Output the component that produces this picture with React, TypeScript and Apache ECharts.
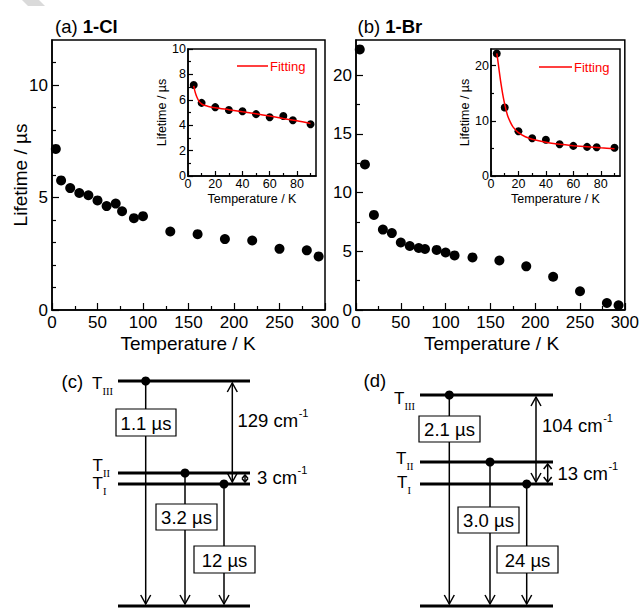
import React, { useEffect, useRef } from "react";
import * as echarts from "echarts";

const SANS = "'Liberation Sans', Arial, Helvetica, sans-serif";
const SERIF = "'Liberation Serif', 'Times New Roman', serif";

// ---------- panel (a) 1-Cl ----------
const clTemperature = [4.2, 10, 20, 30, 40, 50, 60, 70, 77, 90, 100, 130, 160, 190, 220, 250, 280, 293];
const clLifetime = [7.16, 5.76, 5.42, 5.2, 5.1, 4.87, 4.62, 4.73, 4.39, 4.08, 4.17, 3.49, 3.37, 3.15, 3.09, 2.72, 2.65, 2.38];
const clFitT = [4.2, 5, 6, 7, 8, 9, 10, 12, 15, 20, 30, 40, 50, 60, 70, 80, 90];
const clFitL = [7.1, 6.7, 6.35, 6.1, 5.9, 5.77, 5.67, 5.57, 5.48, 5.38, 5.22, 5.06, 4.9, 4.72, 4.53, 4.35, 4.14];

// ---------- panel (b) 1-Br ----------
const brTemperature = [4.2, 10, 20, 30, 40, 50, 60, 70, 77, 90, 100, 110, 130, 160, 190, 220, 250, 280, 293];
const brLifetime = [22.2, 12.4, 8.1, 6.85, 6.55, 5.75, 5.45, 5.28, 5.2, 5.12, 4.9, 4.65, 4.48, 4.22, 3.72, 2.83, 1.6, 0.6, 0.4];
const brFitT = [4.2, 5, 6, 7, 8, 9, 10, 12, 14, 16, 20, 25, 30, 40, 50, 60, 70, 80, 90];
const brFitL = [22.2, 20.9, 19.0, 17.2, 15.6, 14.2, 13.0, 11.0, 9.8, 8.9, 7.85, 7.1, 6.65, 6.1, 5.75, 5.5, 5.3, 5.1, 4.92];

// ---------- axis ticks ----------
const mainXMajor = [0, 50, 100, 150, 200, 250, 300];
const mainXMinor = [25, 75, 125, 175, 225, 275];
const clYMajor = [0, 5, 10];
const clYMinor = [1, 2, 3, 4, 6, 7, 8, 9, 11];
const brYMajor = [0, 5, 10, 15, 20];
const brYMinor = [2.5, 7.5, 12.5, 17.5, 22.5];
const insetXMajor = [0, 20, 40, 60, 80];
const insetXMinor = [10, 30, 50, 70, 90];
const clInsetYMajor = [0, 2, 4, 6, 8, 10];
const clInsetYMinor = [1, 3, 5, 7, 9];
const brInsetYMajor = [0, 10, 20];
const brInsetYMinor = [5, 15];

// ---------- energy diagrams ----------
const diagramCLifetimes = ["1.1 µs", "3.2 µs", "12 µs"];
const diagramCGaps = ["129 cm", "3 cm"];
const diagramDLifetimes = ["2.1 µs", "3.0 µs", "24 µs"];
const diagramDGaps = ["104 cm", "13 cm"];
const levelSubscripts = ["III", "II", "I"];

const zip = (a: number[], b: number[]) => a.map((v, i) => [v, b[i]]);
const INSET_N = 10;

const CW: Record<string, number> = { "0": 0.556, "1": 0.556, "2": 0.556, "3": 0.556, "4": 0.556, "5": 0.556, "6": 0.556, "7": 0.556, "8": 0.556, "9": 0.556, " ": 0.278, c: 0.5, m: 0.833 };
const textW = (s: string, size: number) => s.split("").reduce((acc, ch) => acc + (CW[ch] ?? 0.55), 0) * size;

function axisPair(dim: "x" | "y", gridIndex: number, min: number, max: number, majors: number[], minors: number[], fontSize: number, majorLen: number, minorLen: number, margin: number) {
  const position = dim === "x" ? "bottom" : "left";
  const major = {
    type: "value", gridIndex, min, max, position,
    axisLine: { show: true, onZero: false, lineStyle: { color: "#000", width: 1.5 } },
    axisTick: { show: true, inside: true, length: majorLen, customValues: majors, lineStyle: { color: "#000", width: 1.2 } },
    axisLabel: { show: true, customValues: majors, fontSize, fontFamily: SANS, color: "#000", margin },
    splitLine: { show: false },
  };
  const minor = {
    type: "value", gridIndex, min, max, position,
    axisLine: { show: false, onZero: false },
    axisTick: { show: true, inside: true, length: minorLen, customValues: minors, lineStyle: { color: "#000", width: 1.2 } },
    axisLabel: { show: false },
    splitLine: { show: false },
  };
  return [major, minor];
}

function txt(text: string, x: number, y: number, size: number, opts: any = {}) {
  return {
    type: "text", x, y, z: 30, rotation: opts.rotation ?? 0,
    style: {
      text, x: 0, y: 0, fill: opts.fill ?? "#000",
      fontSize: size, fontFamily: opts.family ?? SANS, fontWeight: opts.weight ?? "normal",
      align: opts.align ?? "left", verticalAlign: "middle",
      textAlign: opts.align ?? "left", textVerticalAlign: "middle",
      rich: opts.rich,
    },
  };
}
function ln(x1: number, y1: number, x2: number, y2: number, w: number) {
  return { type: "line", z: 10, shape: { x1, y1, x2, y2 }, style: { stroke: "#000", lineWidth: w } };
}
function head(x: number, y: number, dir: number, hw = 5, hh = 9) {
  return { type: "polyline", z: 11, shape: { points: [[x - hw, y - dir * hh], [x, y], [x + hw, y - dir * hh]] }, style: { stroke: "#000", lineWidth: 1.5, fill: null } };
}
function dot(x: number, y: number) {
  return { type: "circle", z: 12, shape: { cx: x, cy: y, r: 4.5 }, style: { fill: "#000" } };
}
function box(x1: number, y1: number, x2: number, y2: number, label: string) {
  return [
    { type: "rect", z: 20, shape: { x: x1, y: y1, width: x2 - x1, height: y2 - y1 }, style: { fill: "#fff", stroke: "#000", lineWidth: 1.2 } },
    txt(label, (x1 + x2) / 2, (y1 + y2) / 2 + 0.5, 18.5, { align: "center" }),
  ];
}
function gapLabel(label: string, x: number, y: number) {
  const w = textW(label, 18.5);
  return [txt(label, x, y, 18.5), txt("-1", x + w + 0.5, y - 7, 11)];
}
function levelLabel(x: number, y: number, sub: string, subY: number) {
  return [txt("T", x, y, 17), txt(sub, x + 10.5, subY, 10.5, { family: SERIF })];
}

function diagram(d: any, lifetimes: string[], gaps: string[]) {
  const els: any[] = [];
  const [yIII, yII, yI] = d.levels;
  for (const y of d.levels) els.push(ln(d.x1, y, d.x2, y, 3));
  els.push(ln(d.x1, d.ground, d.x2, d.ground, 3));
  d.dots.forEach((dx: number, i: number) => {
    els.push(dot(dx, d.levels[i]));
    els.push(ln(dx, d.levels[i], dx, d.ground - 2, 1.5));
    els.push(head(dx, d.ground - 2, 1));
    els.push(...box(d.boxes[i][0], d.boxes[i][1], d.boxes[i][2], d.boxes[i][3], lifetimes[i]));
  });
  els.push(ln(d.bigX, yIII + 2, d.bigX, yI - 2, 1.5));
  els.push(head(d.bigX, yIII + 2, -1));
  els.push(head(d.bigX, yI - 2, 1));
  const sh = d.smallHead;
  els.push(ln(d.smallX, yII + 2, d.smallX, yI - 2, 1.5));
  els.push(head(d.smallX, yII + 2, -1, sh[0], sh[1]));
  els.push(head(d.smallX, yI - 2, 1, sh[0], sh[1]));
  els.push(...gapLabel(gaps[0], d.bigLabel[0], d.bigLabel[1]));
  els.push(...gapLabel(gaps[1], d.smallLabel[0], d.smallLabel[1]));
  d.tLabels.forEach((t: number[], i: number) => els.push(...levelLabel(t[0], t[1], levelSubscripts[i], t[2])));
  els.push(txt(d.tag, d.tagPos[0], d.tagPos[1], 18.5));
  return els;
}

export default function App() {
  const ref = useRef<HTMLDivElement>(null);
  useEffect(() => {
    if (!ref.current) return;
    const chart = echarts.init(ref.current, undefined, { renderer: "svg" });

    const grids = [
      { left: 52, top: 40, width: 273, height: 270 },
      { left: 356, top: 40, width: 270, height: 270 },
      { left: 188, top: 49, width: 128, height: 127 },
      { left: 491, top: 49, width: 129, height: 127 },
    ].map((g) => ({ ...g, show: true, borderColor: "#000", borderWidth: 1.5, backgroundColor: "#fff", containLabel: false }));

    const xAxis = [
      ...axisPair("x", 0, 0, 300, mainXMajor, mainXMinor, 17, 7, 4, 4),
      ...axisPair("x", 1, 0, 300, mainXMajor, mainXMinor, 17, 7, 4, 4),
      ...axisPair("x", 2, 0, 94, insetXMajor, insetXMinor, 12.5, 5, 3, 1),
      ...axisPair("x", 3, 0, 94, insetXMajor, insetXMinor, 12.5, 5, 3, 1),
    ];
    const yAxis = [
      ...axisPair("y", 0, 0, 12, clYMajor, clYMinor, 17, 7, 4, 4),
      ...axisPair("y", 1, 0, 23, brYMajor, brYMinor, 17, 7, 4, 4),
      ...axisPair("y", 2, 0, 10, clInsetYMajor, clInsetYMinor, 12.5, 5, 3, 2),
      ...axisPair("y", 3, 0, 23, brInsetYMajor, brInsetYMinor, 12.5, 5, 3, 2),
    ];

    const scatter = (xi: number, data: number[][], size: number) => ({
      type: "scatter", xAxisIndex: xi, yAxisIndex: xi, data, symbol: "circle", symbolSize: size,
      itemStyle: { color: "#000", opacity: 1 }, z: 3, silent: true,
    });
    const fit = (xi: number, data: number[][]) => ({
      type: "line", xAxisIndex: xi, yAxisIndex: xi, data, showSymbol: false, smooth: 0.3,
      lineStyle: { color: "#ff0000", width: 1.5 }, z: 5, silent: true,
    });

    const series = [
      scatter(0, zip(clTemperature, clLifetime), 10),
      scatter(2, zip(brTemperature, brLifetime), 10),
      scatter(4, zip(clTemperature.slice(0, INSET_N), clLifetime.slice(0, INSET_N)), 8),
      fit(4, zip(clFitT, clFitL)),
      scatter(6, zip(brTemperature.slice(0, INSET_N), brLifetime.slice(0, INSET_N)), 8),
      fit(6, zip(brFitT, brFitL)),
    ];

    const diagC = {
      x1: 118, x2: 250, levels: [381, 473, 484], ground: 606,
      dots: [145.7, 185, 224],
      boxes: [[116, 409, 176, 436], [156, 504, 217, 530], [194, 546, 255, 573]],
      bigX: 232.3, smallX: 245, smallHead: [3, 3.5],
      bigLabel: [237.5, 420], smallLabel: [257, 477],
      tLabels: [[92, 383, 391.5], [92.5, 465, 473], [92.5, 483.5, 491.5]],
      tag: "(c)", tagPos: [61.5, 381.5],
    };
    const diagD = {
      x1: 420, x2: 553, levels: [395, 462, 484], ground: 606,
      dots: [449.3, 490, 526.7],
      boxes: [[419, 416, 480, 442], [458, 507, 519, 533], [497, 546, 558, 573]],
      bigX: 536, smallX: 547.7, smallHead: [4, 5],
      bigLabel: [542, 425], smallLabel: [557.5, 473],
      tLabels: [[394, 398.5, 406.5], [396, 458.5, 466.5], [397, 482, 490]],
      tag: "(d)", tagPos: [363.5, 380],
    };

    const graphic = [
      { type: "polygon", z: 1, shape: { points: [[22, 0], [39, 0], [45, 6], [28, 6]] }, style: { fill: "#dadada" } },
      txt("{a|(a) }{b|1-Cl}", 55, 26, 18.5, { rich: { a: { fontSize: 18.5, fontFamily: SANS }, b: { fontSize: 18.5, fontFamily: SANS, fontWeight: "bold" } } }),
      txt("{a|(b) }{b|1-Br}", 357.5, 26, 18.5, { rich: { a: { fontSize: 18.5, fontFamily: SANS }, b: { fontSize: 18.5, fontFamily: SANS, fontWeight: "bold" } } }),
      txt("Lifetime / µs", 20, 175, 19, { align: "center", rotation: Math.PI / 2 }),
      txt("Temperature / K", 188, 343, 19, { align: "center" }),
      txt("Temperature / K", 491.5, 343, 19, { align: "center" }),
      txt("Temperature / K", 252, 199, 12.5, { align: "center" }),
      txt("Temperature / K", 555.5, 199, 12.5, { align: "center" }),
      txt("Lifetime / µs", 162, 112.5, 12.5, { align: "center", rotation: Math.PI / 2 }),
      txt("Lifetime / µs", 465, 112.5, 12.5, { align: "center", rotation: Math.PI / 2 }),
      { type: "line", z: 30, shape: { x1: 237, y1: 66, x2: 268, y2: 66 }, style: { stroke: "#ff0000", lineWidth: 1.5 } },
      txt("Fitting", 270, 66.5, 13, { fill: "#ff0000" }),
      { type: "line", z: 30, shape: { x1: 539, y1: 67, x2: 572, y2: 67 }, style: { stroke: "#ff0000", lineWidth: 1.5 } },
      txt("Fitting", 574, 67.5, 13, { fill: "#ff0000" }),
      ...diagram(diagC, diagramCLifetimes, diagramCGaps),
      ...diagram(diagD, diagramDLifetimes, diagramDGaps),
    ];

    chart.setOption({
      animation: false,
      backgroundColor: "#fff",
      textStyle: { fontFamily: SANS },
      grid: grids,
      xAxis,
      yAxis,
      series,
      graphic: { elements: graphic },
    });
    return () => chart.dispose();
  }, []);

  return <div ref={ref} style={{ position: "fixed", left: 0, top: 0, width: 642, height: 608 }} />;
}
